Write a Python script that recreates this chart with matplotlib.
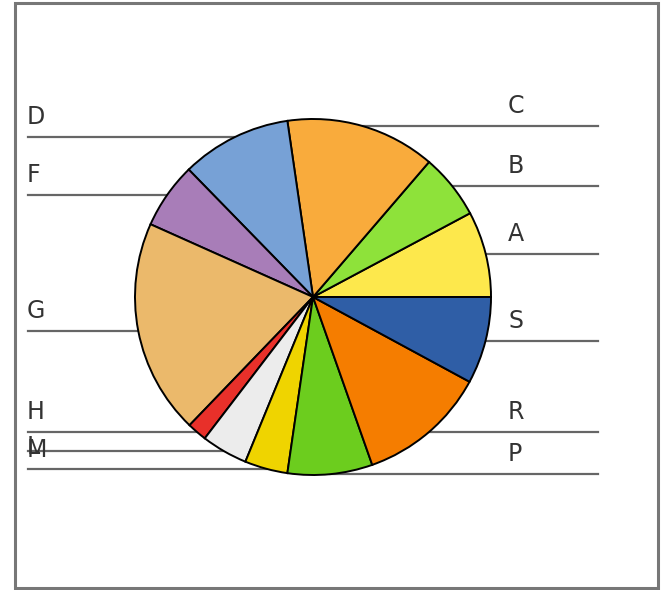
import matplotlib.pyplot as plt
import numpy as np
from matplotlib.patches import Rectangle

# Datos: porcentajes de cada sector (en sentido antihorario desde las 3 en punto)
etiquetas = ["A", "B", "C", "D", "F", "G", "H", "M", "L", "P", "R", "S"]
valores = [7.8, 5.9, 13.6, 10.0, 6.0, 19.5, 1.8, 4.2, 3.9, 7.7, 11.7, 7.9]
colores = ["#fde84c", "#8ee23a", "#f9ab3c", "#77a1d6", "#a87db8", "#ebb96b",
           "#e8302a", "#ececec", "#efd400", "#6ccd1e", "#f57d00", "#2f5ea6"]

W, H = 672, 590
fig = plt.figure(figsize=(W / 100, H / 100), dpi=100)
ax = fig.add_axes([0, 0, 1, 1])

# Marco gris
ax.add_patch(Rectangle((15, 2), 643, 585, fill=False, edgecolor="#777777", lw=2.2))

cx, cy, r = 313, H - 297, 178
wedges, _ = ax.pie(valores, colors=colores, startangle=0, counterclock=True,
                   center=(cx, cy), radius=r, frame=True,
                   wedgeprops=dict(edgecolor="black", linewidth=1.4))
ax.set_xlim(0, W)
ax.set_ylim(0, H)
ax.set_aspect("equal")
ax.axis("off")

# Ajustes de la etiqueta sobre la línea (layout)
sube = {"M": 1, "L": 22}

for w, lab in zip(wedges, etiquetas):
    ang = np.deg2rad((w.theta1 + w.theta2) / 2)
    px, py = cx + r * np.cos(ang), cy + r * np.sin(ang)
    dy = sube.get(lab, 20)
    if np.cos(ang) >= 0:
        ax.plot([px, 598], [py, py], color="#666666", lw=1.6, zorder=0)
        ax.text(508, py + dy, lab, fontsize=17, color="#333333", va="center", ha="left")
    else:
        ax.plot([28, px], [py, py], color="#666666", lw=1.6, zorder=0)
        ax.text(27, py + dy, lab, fontsize=17, color="#333333", va="center", ha="left")

fig.savefig("out.png", dpi=100)
